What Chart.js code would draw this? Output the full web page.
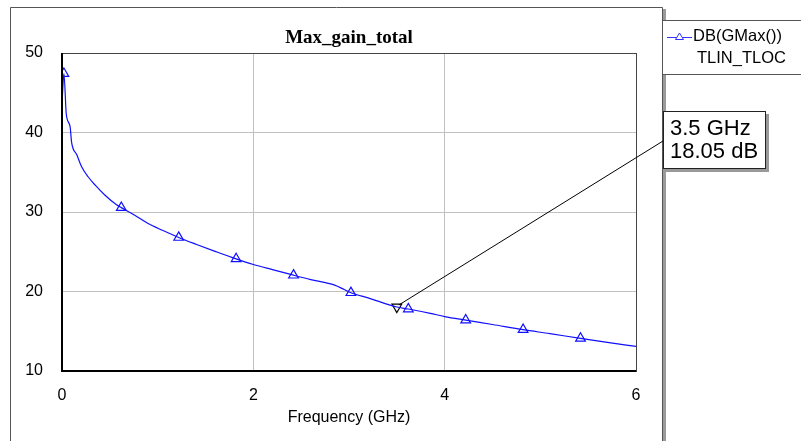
<!DOCTYPE html>
<html>
<head>
<meta charset="utf-8">
<script src="https://cdn.jsdelivr.net/npm/chart.js@4/dist/chart.umd.min.js"></script>
<style>
  html, body { margin: 0; padding: 0; background: #fff; }
  #wrap { width: 801px; height: 441px; position: relative; }
</style>
</head>
<body>
<div id="wrap"><canvas id="gainChart" width="801" height="441"></canvas></div>
<script>
// datos
const freqGHz = [0, 0.02, 0.045, 0.085, 0.10, 0.155, 0.205, 0.275, 0.345, 0.45, 0.57, 0.62, 0.76, 0.9, 1.05,
  1.22, 1.4, 1.6, 1.82, 2.0, 2.2, 2.42, 2.6, 2.85, 2.95, 3.02, 3.2, 3.5, 3.62, 3.85, 4.0, 4.22, 4.5,
  4.82, 5.1, 5.42, 5.7, 6.0];
const gainDB = [43.6, 47.4, 42.3, 40.7, 38.8, 37.2, 35.7, 34.4, 33.4, 32.1, 30.9, 30.55, 29.6, 28.55, 27.7,
  26.8, 25.95, 25.05, 24.1, 23.4, 22.75, 22.05, 21.5, 20.8, 20.25, 19.85, 19.2, 18.05, 17.8, 17.25, 16.85, 16.4, 15.85,
  15.2, 14.7, 14.1, 13.6, 13.1];
const markerFreqs = [0.02, 0.62, 1.22, 1.82, 2.42, 3.02, 3.62, 4.22, 4.82, 5.42];
const xTicks = [0, 2, 4, 6];
const yTicks = [10, 20, 30, 40, 50];
const seriesName = "DB(GMax())";
const seriesSub = "TLIN_TLOC";
const markerFreq = 3.5;
const markerGain = 18.05;

const points = freqGHz.map((f, i) => ({ x: f, y: gainDB[i] }));

// marco, leyenda y anotacion
const decorPlugin = {
  id: "decor",
  beforeDraw(chart) {
    const ctx = chart.ctx;
    ctx.save();
    // marco exterior
    ctx.strokeStyle = "#9a9a9a";
    ctx.lineWidth = 3;
    ctx.beginPath();
    ctx.moveTo(664.5, 9); ctx.lineTo(664.5, 441);
    ctx.stroke();
    ctx.strokeStyle = "#555";
    ctx.lineWidth = 1;
    ctx.beginPath();
    ctx.moveTo(10.5, 441); ctx.lineTo(10.5, 7.5); ctx.lineTo(662.5, 7.5); ctx.lineTo(662.5, 441);
    ctx.stroke();
    ctx.restore();
  },
  afterDraw(chart) {
    const ctx = chart.ctx;
    const a = chart.chartArea;
    const xs = chart.scales.x, ys = chart.scales.y;
    ctx.save();
    // borde del area del grafico
    ctx.strokeStyle = "#444";
    ctx.lineWidth = 1;
    ctx.strokeRect(a.left + 0.5, a.top + 0.5, a.right - a.left, a.bottom - a.top);
    ctx.strokeStyle = "#000";
    ctx.lineWidth = 2;
    ctx.beginPath();
    ctx.moveTo(a.left, a.top); ctx.lineTo(a.left, a.bottom); ctx.lineTo(a.right, a.bottom);
    ctx.stroke();

    // leyenda
    ctx.fillStyle = "#fff";
    ctx.fillRect(662, 21, 145, 54);
    ctx.strokeStyle = "#555";
    ctx.lineWidth = 1;
    ctx.strokeRect(662.5, 20.5, 145, 54);
    ctx.strokeStyle = "#3333ff";
    ctx.beginPath();
    ctx.moveTo(667, 37.5); ctx.lineTo(692, 37.5);
    ctx.stroke();
    ctx.beginPath();
    ctx.moveTo(679.5, 33); ctx.lineTo(683.5, 39.5); ctx.lineTo(675.5, 39.5); ctx.closePath();
    ctx.fillStyle = "#fff";
    ctx.fill();
    ctx.stroke();
    ctx.fillStyle = "#000";
    ctx.font = "16.5px 'Liberation Sans', Arial, sans-serif";
    ctx.textBaseline = "middle";
    ctx.textAlign = "left";
    ctx.fillText(seriesName, 693, 36);
    ctx.fillText(seriesSub, 697, 58);

    // anotacion del marcador
    const px = xs.getPixelForValue(markerFreq);
    const py = ys.getPixelForValue(markerGain);
    ctx.strokeStyle = "#000";
    ctx.lineWidth = 1;
    ctx.beginPath();
    ctx.moveTo(px + 2, py - 2); ctx.lineTo(663, 141);
    ctx.stroke();
    ctx.fillStyle = "#999";
    ctx.fillRect(666, 114, 103, 58);
    ctx.fillStyle = "#fff";
    ctx.fillRect(663, 111, 102, 57);
    ctx.strokeStyle = "#222";
    ctx.strokeRect(663.5, 111.5, 102, 57);
    ctx.fillStyle = "#000";
    ctx.font = "22px 'Liberation Sans', Arial, sans-serif";
    ctx.fillText(markerFreq + " GHz", 670, 129);
    ctx.fillText(markerGain.toFixed(2) + " dB", 670, 152);
    ctx.restore();
  }
};

const ctx = document.getElementById("gainChart").getContext("2d");
window.myChart = new Chart(ctx, {
  type: "line",
  data: {
    datasets: [
      {
        label: seriesName,
        data: points,
        borderColor: "#1010ff",
        borderWidth: 1.2,
        cubicInterpolationMode: "monotone",
        pointStyle: "triangle",
        pointBackgroundColor: "rgba(255,255,255,0)",
        pointBorderColor: "#1010ff",
        pointBorderWidth: 1.2,
        pointRadius: c => markerFreqs.includes(freqGHz[c.dataIndex]) ? 5.6 : 0,
        pointHoverRadius: 0
      },
      {
        label: "marker",
        data: [{ x: markerFreq, y: markerGain }],
        showLine: false,
        pointStyle: "triangle",
        rotation: 180,
        pointRadius: 5.6,
        pointBackgroundColor: "rgba(255,255,255,0)",
        pointBorderColor: "#000",
        pointBorderWidth: 1.2
      }
    ]
  },
  options: {
    responsive: false,
    animation: false,
    events: [],
    layout: { padding: { left: 0, right: 165, top: 0, bottom: 0 } },
    plugins: {
      legend: { display: false },
      tooltip: { enabled: false },
      title: {
        display: true,
        fullSize: false,
        text: "Max_gain_total",
        color: "#000",
        font: { family: "'Liberation Serif', 'Times New Roman', serif", size: 19, weight: "bold" },
        padding: { top: 26.6, bottom: 3.6 }
      }
    },
    scales: {
      x: {
        type: "linear",
        min: 0,
        max: 6,
        afterBuildTicks: s => { s.ticks = xTicks.map(v => ({ value: v })); },
        afterFit: s => { s.height = 70; },
        grid: { color: "#c0c0c0", drawTicks: false },
        border: { display: false },
        ticks: { color: "#000", padding: 15.4, font: { family: "'Liberation Sans', Arial, sans-serif", size: 16 } },
        title: {
          display: true,
          text: "Frequency (GHz)",
          color: "#000",
          font: { family: "'Liberation Sans', Arial, sans-serif", size: 16 },
          padding: { top: 0, bottom: 13.4 }
        }
      },
      y: {
        min: 10,
        max: 50,
        afterBuildTicks: s => { s.ticks = yTicks.map(v => ({ value: v })); },
        afterFit: s => { s.width = 62; },
        grid: { color: "#c0c0c0", drawTicks: false },
        border: { display: false },
        ticks: { color: "#000", padding: 19, font: { family: "'Liberation Sans', Arial, sans-serif", size: 16 } }
      }
    }
  },
  plugins: [decorPlugin]
});
</script>
</body>
</html>
